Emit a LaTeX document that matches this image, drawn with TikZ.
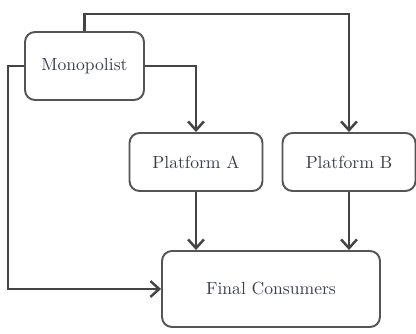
\documentclass[tikz,border=0pt]{standalone}
\usepackage{tikz}
\usetikzlibrary{arrows.meta}
\definecolor{linegray}{HTML}{444444}
\definecolor{boxgray}{HTML}{555555}
\definecolor{textgray}{HTML}{3A3F4A}
\tikzstyle{agent} = [rectangle, rounded corners=0.2cm, minimum width=2.38cm, minimum height=1.36cm, text centered, draw=boxgray, line width=1.1pt, text=textgray, fill=white]
\tikzstyle{platform} = [agent, minimum width=2.66cm, minimum height=1.16cm]
\tikzstyle{consumer} = [agent, minimum width=4.36cm, minimum height=1.52cm]
\tikzstyle{arrow} = [line width=1.4pt, draw=linegray, ->, >={Straight Barb[length=5pt, width=9pt]}]

\begin{document}
\begin{tikzpicture}[x=0.02cm, y=0.02cm]
	\useasboundingbox (0,0) rectangle (416,334);
	\node (mono) [agent] at (84.5,268) {Monopolist};
	\node (pa) [platform] at (196,172) {Platform A};
	\node (pb) [platform] at (349,172) {Platform B};
	\node (final) [consumer] at (271,45) {Final Consumers};

	\draw [arrow] (mono.north) -- ++(0,17) -| (pb.north);
	\draw [arrow] (mono.east) -| (pa.north);
	\draw [arrow] (mono.west) -- ++(-16,0) |- (final.west);
	\draw [arrow] (pa.south) -- (pa.south |- final.north);
	\draw [arrow] (pb.south) -- (pb.south |- final.north);

\end{tikzpicture}
\end{document}
